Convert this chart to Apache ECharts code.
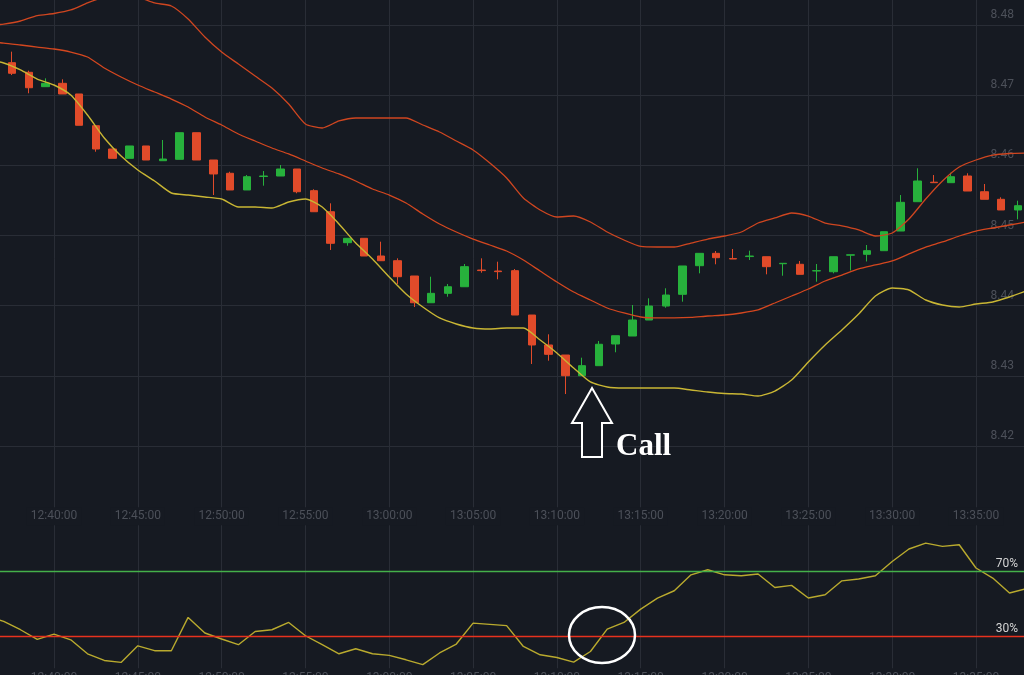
<!DOCTYPE html>
<html><head><meta charset="utf-8">
<script src="https://cdn.jsdelivr.net/npm/echarts@6/dist/echarts.min.js"></script>
<style>html,body{margin:0;padding:0;background:#161a22;}#c{width:1024px;height:675px;}</style>
</head><body><div id="c"></div>
<script>
// minutes after 12:00
const candleMinutes = [36.5,37.5,38.5,39.5,40.5,41.5,42.5,43.5,44.5,45.5,46.5,47.5,48.5,49.5,50.5,51.5,52.5,53.5,54.5,55.5,56.5,57.5,58.5,59.5,60.5,61.5,62.5,63.5,64.5,65.5,66.5,67.5,68.5,69.5,70.5,71.5,72.5,73.5,74.5,75.5,76.5,77.5,78.5,79.5,80.5,81.5,82.5,83.5,84.5,85.5,86.5,87.5,88.5,89.5,90.5,91.5,92.5,93.5,94.5,95.5,96.5,97.5];
const opens  = [8.47686,8.47463,8.47326,8.47121,8.47169,8.47017,8.46565,8.46233,8.46100,8.46276,8.46066,8.46086,8.46465,8.46076,8.45887,8.45649,8.45841,8.45848,8.45948,8.45639,8.45339,8.44898,8.44960,8.44708,8.44641,8.44423,8.44042,8.44176,8.44270,8.44508,8.44494,8.44499,8.43867,8.43440,8.43297,8.43002,8.43145,8.43454,8.43568,8.43796,8.43995,8.44162,8.44570,8.44746,8.44672,8.44700,8.44698,8.44598,8.44590,8.44495,8.44484,8.44720,8.44732,8.44784,8.45064,8.45482,8.45760,8.45753,8.45848,8.45624,8.45516,8.45364];
const closes = [8.47473,8.47312,8.47106,8.47169,8.47017,8.46571,8.46233,8.46100,8.46276,8.46076,8.46090,8.46465,8.46076,8.45877,8.45649,8.45838,8.45848,8.45948,8.45624,8.45339,8.44889,8.44960,8.44708,8.44641,8.44413,8.44042,8.44176,8.44270,8.44556,8.44500,8.44485,8.43867,8.43440,8.43307,8.43002,8.43145,8.43450,8.43572,8.43796,8.43995,8.44152,8.44566,8.44746,8.44684,8.44665,8.44708,8.44556,8.44604,8.44447,8.44499,8.44698,8.44725,8.44784,8.45054,8.45473,8.45777,8.45753,8.45838,8.45634,8.45516,8.45364,8.45425];
const lows   = [8.47444,8.47287,8.47027,8.47121,8.47017,8.46571,8.46194,8.46100,8.46100,8.46076,8.46066,8.46086,8.46076,8.45577,8.45649,8.45649,8.45710,8.45848,8.45602,8.45339,8.44794,8.44855,8.44708,8.44641,8.44309,8.43981,8.44042,8.44128,8.44270,8.44470,8.44376,8.43867,8.43169,8.43216,8.42741,8.43002,8.43145,8.43336,8.43568,8.43796,8.43971,8.44057,8.44461,8.44590,8.44665,8.44651,8.44447,8.44427,8.44447,8.44342,8.44461,8.44501,8.44630,8.44784,8.45064,8.45482,8.45753,8.45753,8.45634,8.45516,8.45364,8.45231];
const highs  = [8.47729,8.47620,8.47349,8.47240,8.47226,8.47017,8.46565,8.46233,8.46276,8.46276,8.46361,8.46465,8.46465,8.46076,8.45909,8.45862,8.45919,8.46005,8.45948,8.45659,8.45459,8.44960,8.44960,8.44912,8.44675,8.44423,8.44413,8.44309,8.44594,8.44675,8.44627,8.44523,8.43867,8.43592,8.43297,8.43259,8.43497,8.43572,8.44010,8.44105,8.44248,8.44566,8.44746,8.44779,8.44808,8.44784,8.44698,8.44604,8.44637,8.44594,8.44698,8.44725,8.44865,8.45054,8.45577,8.45958,8.45862,8.45895,8.45887,8.45734,8.45545,8.45496];

const bandMinutes = [36,37,38,39,40,41,42,43,44,45,46,47,48,49,50,51,52,53,54,55,56,57,58,59,60,61,62,63,64,65,66,67,68,69,70,71,72,73,74,75,76,77,78,79,80,81,82,83,84,85,86,87,88,89,90,91,92,93,94,95,96,97,98];
const upperBand  = [8.47986,8.48014,8.48057,8.48135,8.48164,8.48214,8.48314,8.48399,8.48442,8.48399,8.48314,8.48271,8.48086,8.47829,8.47615,8.47444,8.47273,8.47102,8.46874,8.46589,8.46532,8.46632,8.46675,8.46675,8.46675,8.46675,8.46575,8.46475,8.46347,8.46219,8.46033,8.45820,8.45535,8.45364,8.45264,8.45278,8.45193,8.45050,8.44936,8.44844,8.44836,8.44836,8.44893,8.44950,8.44993,8.45050,8.45178,8.45250,8.45321,8.45278,8.45178,8.45136,8.45079,8.44993,8.45036,8.45235,8.45520,8.45777,8.45976,8.46076,8.46147,8.46169,8.46176];
const middleBand = [8.47758,8.47743,8.47715,8.47686,8.47658,8.47615,8.47544,8.47387,8.47259,8.47145,8.47045,8.46945,8.46831,8.46689,8.46575,8.46447,8.46347,8.46247,8.46162,8.46062,8.45962,8.45877,8.45777,8.45663,8.45577,8.45463,8.45307,8.45164,8.45050,8.44950,8.44865,8.44779,8.44651,8.44494,8.44338,8.44195,8.44081,8.43967,8.43896,8.43839,8.43825,8.43825,8.43832,8.43853,8.43867,8.43896,8.43939,8.44038,8.44138,8.44238,8.44352,8.44437,8.44523,8.44580,8.44637,8.44737,8.44836,8.44908,8.44993,8.45064,8.45107,8.45150,8.45193];
const lowerBand  = [8.47515,8.47458,8.47359,8.47230,8.47145,8.47002,8.46717,8.46390,8.46133,8.45934,8.45777,8.45606,8.45577,8.45549,8.45520,8.45406,8.45406,8.45392,8.45478,8.45520,8.45406,8.45164,8.44893,8.44665,8.44409,8.44167,8.43981,8.43825,8.43739,8.43682,8.43668,8.43682,8.43682,8.43511,8.43326,8.43112,8.42913,8.42841,8.42827,8.42827,8.42827,8.42827,8.42799,8.42770,8.42749,8.42742,8.42713,8.42784,8.42941,8.43198,8.43440,8.43654,8.43882,8.44138,8.44252,8.44224,8.44081,8.44010,8.43981,8.44024,8.44053,8.44124,8.44209];

const rsiMinutes = bandMinutes;
const rsiValues = [42.3,38.8,33.7,27.8,31.0,27.5,18.9,14.8,13.6,23.8,20.8,20.8,41.3,31.7,28.0,24.5,32.6,33.7,38.2,30.0,24.5,18.9,22.0,18.9,17.9,15.2,12.2,19.4,24.9,37.8,37.0,36.2,23.4,18.3,16.6,13.8,20.3,34.1,38.2,46.4,53.2,57.7,67.5,70.6,67.5,66.9,68.0,59.7,61.0,53.2,55.2,63.8,64.9,66.9,75.7,83.4,87.0,85.0,86.0,71.7,65.5,56.3,59.0];
const rsiLevels = [70, 30];
const rsiLevelLabels = ['70%', '30%'];

const timeTicks  = [40,45,50,55,60,65,70,75,80,85,90,95];
const timeLabels = ['12:40:00','12:45:00','12:50:00','12:55:00','13:00:00','13:05:00','13:10:00','13:15:00','13:20:00','13:25:00','13:30:00','13:35:00'];

const BG = '#161a22';
const GRID = '#292d36';
const LABEL = '#4c5059';
const X_MIN = 36.7787, X_MAX = 97.864;

function timeFmt(v) {
  for (let i = 0; i < timeTicks.length; i++) if (Math.abs(timeTicks[i] - v) < 1e-6) return timeLabels[i];
  return '';
}

const chart = echarts.init(document.getElementById('c'), null, {renderer: 'canvas'});
const xCommon = {
  type: 'value', min: X_MIN, max: X_MAX, minInterval: 5, maxInterval: 5, splitNumber: 12,
  axisLine: {show: false}, axisTick: {show: false},
  splitLine: {show: true, showMinLine: false, showMaxLine: false, lineStyle: {color: GRID, width: 1}}
};
chart.setOption({
  backgroundColor: BG,
  animation: false,
  grid: [
    {left: 0, right: 0, top: 0, height: 516.2, outerBoundsMode: 'none', containLabel: false},
    {left: 0, right: 0, top: 522, height: 146.25, outerBoundsMode: 'none', containLabel: false}
  ],
  xAxis: [
    Object.assign({}, xCommon, {gridIndex: 0,
      axisLabel: {formatter: timeFmt, color: LABEL, fontSize: 12, fontFamily: 'Roboto', margin: 0,
        verticalAlign: 'middle', backgroundColor: BG, padding: [3, 4], showMinLabel: false, showMaxLabel: false}}),
    Object.assign({}, xCommon, {gridIndex: 1,
      axisLabel: {formatter: timeFmt, color: LABEL, fontSize: 12, fontFamily: 'Roboto', margin: 4,
        showMinLabel: false, showMaxLabel: false}})
  ],
  yAxis: [
    {gridIndex: 0, type: 'value', position: 'right', min: 8.41, max: 8.483563, interval: 0.01,
      axisLine: {show: false}, axisTick: {show: false},
      splitLine: {show: true, showMinLine: false, showMaxLine: false, lineStyle: {color: GRID, width: 1}},
      axisLabel: {inside: true, margin: 10, color: LABEL, fontSize: 12, fontFamily: 'Roboto',
        verticalAlign: 'bottom', lineHeight: 20, showMinLabel: false, showMaxLabel: false,
        formatter: v => v.toFixed(2)}},
    {gridIndex: 1, type: 'value', min: 10, max: 100, show: false, splitLine: {show: false}}
  ],
  series: [
    {type: 'candlestick', xAxisIndex: 0, yAxisIndex: 0, barWidth: 8,
      encode: {x: 0, y: [1, 2, 3, 4]},
      data: candleMinutes.map((t, i) => [t, opens[i], closes[i], lows[i], highs[i]]),
      itemStyle: {color: '#27b13c', color0: '#e14b2a', borderColor: '#27b13c', borderColor0: '#e14b2a', borderWidth: 1}},
    {type: 'line', xAxisIndex: 0, yAxisIndex: 0, showSymbol: false, smooth: 0.2,
      data: bandMinutes.map((t, i) => [t, upperBand[i]]), lineStyle: {color: '#cf4620', width: 1.3}},
    {type: 'line', xAxisIndex: 0, yAxisIndex: 0, showSymbol: false, smooth: 0.2,
      data: bandMinutes.map((t, i) => [t, middleBand[i]]), lineStyle: {color: '#d4471f', width: 1.3}},
    {type: 'line', xAxisIndex: 0, yAxisIndex: 0, showSymbol: false, smooth: 0.2,
      data: bandMinutes.map((t, i) => [t, lowerBand[i]]), lineStyle: {color: '#c9b634', width: 1.4}},
    {type: 'line', xAxisIndex: 1, yAxisIndex: 1, showSymbol: false, smooth: false,
      data: rsiMinutes.map((t, i) => [t, rsiValues[i]]), lineStyle: {color: '#b9aa2e', width: 1.4},
      markLine: {silent: true, symbol: ['none', 'none'], animation: false,
        label: {position: 'insideEndTop', color: '#d4d4d4', fontSize: 12, fontFamily: 'Roboto', distance: [6, 1]},
        data: [
          {yAxis: rsiLevels[0], lineStyle: {color: '#44b04a', type: 'solid', width: 1.3}, label: {formatter: rsiLevelLabels[0]}},
          {yAxis: rsiLevels[1], lineStyle: {color: '#e8321e', type: 'solid', width: 1.3}, label: {formatter: rsiLevelLabels[1]}}
        ]}}
  ],
  graphic: [
    {type: 'polygon', z: 100, shape: {points: [[592, 388], [612, 423], [602, 423], [602, 457], [582, 457], [582, 423], [572, 423]]},
      style: {fill: BG, stroke: '#ffffff', lineWidth: 2}},
    {type: 'text', z: 100, style: {x: 616, y: 447, text: 'Call', fill: '#ffffff',
      font: 'bold 31px "Liberation Serif", serif', align: 'left', verticalAlign: 'middle'}},
    {type: 'ellipse', z: 100, shape: {cx: 602, cy: 635, rx: 33, ry: 28},
      style: {fill: 'none', stroke: '#ffffff', lineWidth: 2.5}}
  ]
});
</script></body></html>
